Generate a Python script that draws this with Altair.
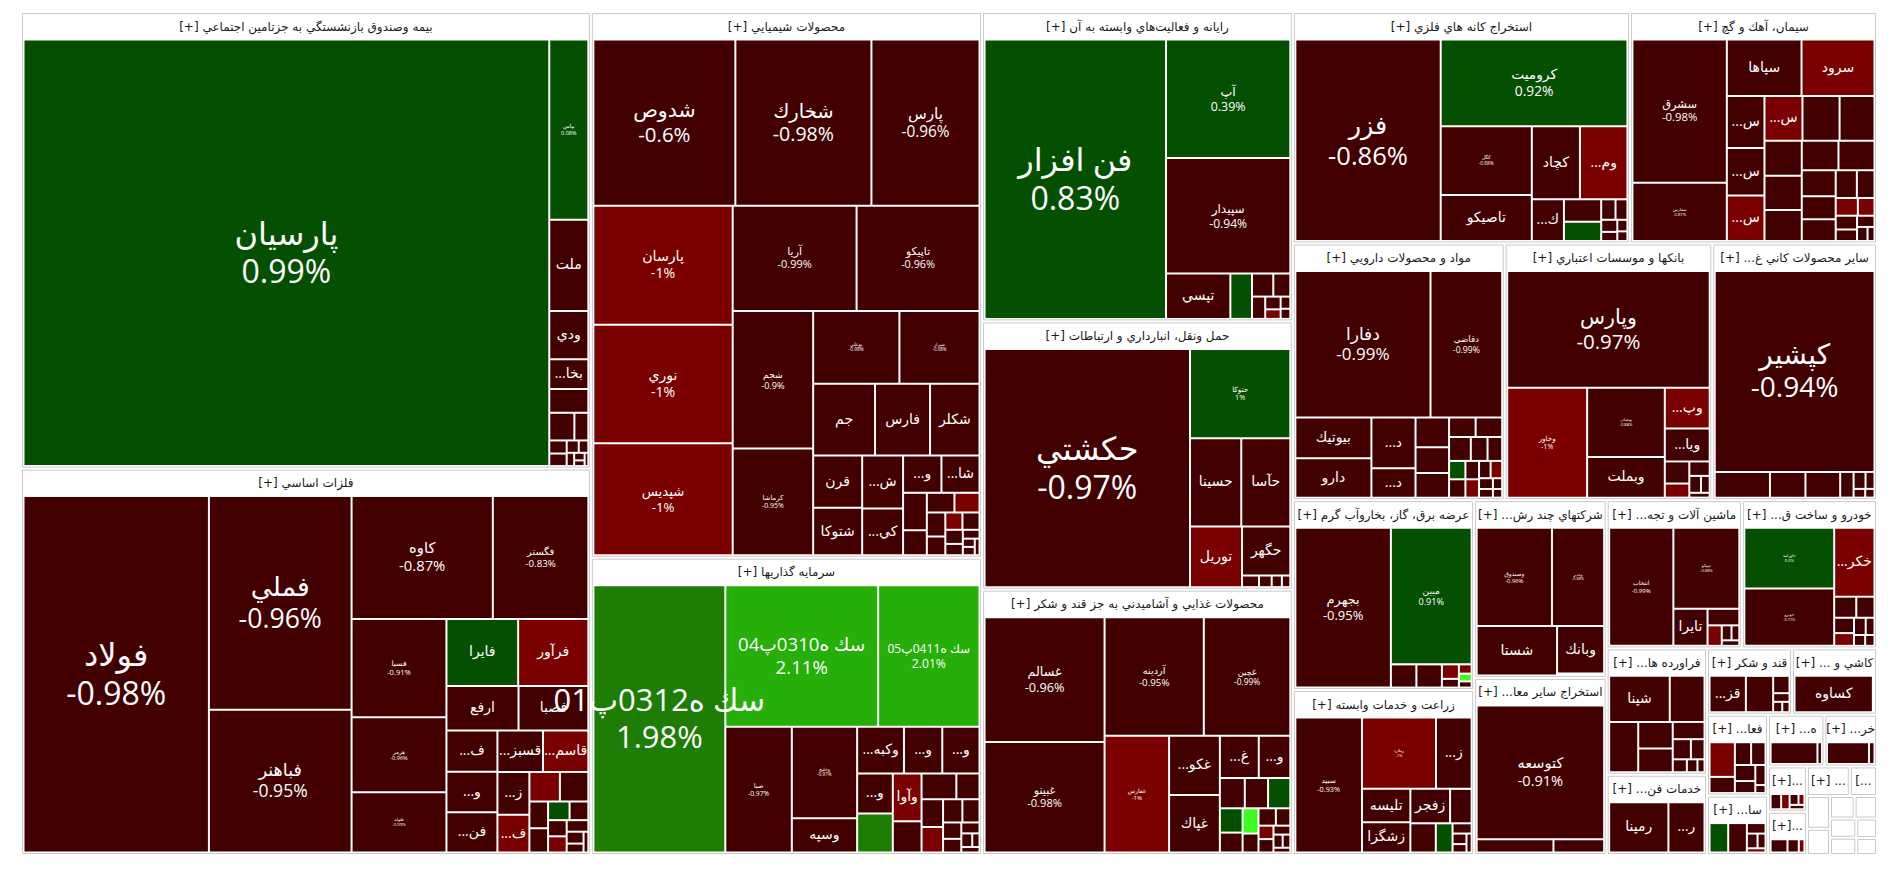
import altair as alt
import pandas as pd

FONT_HDR = "DejaVu Sans"
FONT_LBL = "Open Sans, DejaVu Sans"
W, H = 1856, 843
HEADER = 26

# ---------------- sectors (header text as shown, size) ----------------
sector_headers = [
    "[+] بيمه وصندوق بازنشستگي به جزتامين اجتماعي",
    "[+] فلزات اساسي",
    "[+] محصولات شيميايي",
    "[+] سرمايه گذاريها",
    "[+] رايانه و فعاليت\u200cهاي وابسته به آن",
    "[+] حمل ونقل، انبارداري و ارتباطات",
    "[+] محصولات غذايي و آشاميدني به جز قند و شكر",
    "[+] استخراج كانه هاي فلزي",
    "[+] سيمان، آهك و گچ",
    "[+] مواد و محصولات دارويي",
    "[+] بانكها و موسسات اعتباري",
    "[+] ...ساير محصولات كاني غ",
    "[+] عرضه برق، گاز، بخاروآب گرم",
    "[+] زراعت و خدمات وابسته",
    "[+] ...شركتهاي چند رش",
    "[+] ...استخراج ساير معا",
    "[+] ...ماشين آلات و تجه",
    "[+] ...خودرو و ساخت ق",
    "[+] ...فراورده ها",
    "[+] ...خدمات فن",
    "[+] قند و شكر",
    "[+] ... كاشي و",
    "[+] ...فعا",
    "[+] ...سا",
    "[+] ...ه",
    "[+] ...خر",
    "[+]...",
    "[+]...",
    "[+] ...",
    "[...",
    "", "", "", "", "", "", "", "",
]
sector_values = [258.4, 218.7, 212.0, 115.5, 95.5, 82.8, 81.9, 77.5, 56.8, 54.0,
                 52.9, 42.0, 34.2, 29.7, 23.4, 23.3, 19.9, 19.9, 12.6, 8.0,
                 5.6, 5.6, 4.9, 3.6, 2.9, 2.7, 1.75, 1.67, 1.26, 0.8,
                 0.75, 0.6, 0.55, 0.5, 0.5, 0.45, 0.4, 0.35]

# ---------------- stocks per sector: names, sizes, % change ----------------
s01_names = ["پارسيان", "بپاس", "ملت", "ودي", "...بخا"] + [""] * 11
s01_values = [226, 7.1, 3.6, 1.9, 1.17, 0.94, 0.7, 0.39, 0.23, 0.22, 0.15, 0.12, 0.1, 0.08, 0.06, 0.05]
s01_pcts = [0.99, 0.08] + [-0.9] * 14

s02_names = ["فولاد", "فملي", "فباهنر", "كاوه", "فگستر", "فسبا", "هرمز", "فلوله", "فايرا", "فرآور",
             "ارفع", "فصبا", "...ف", "...و", "...فن", "...قسبز", "...قاسم", "...ز", "...ف"] + [""] * 12
s02_values = [65.9, 30.4, 20.3, 17.3, 11.7, 9.3, 7.1, 5.7, 4.8, 4.7, 3.2, 3.1, 2.1, 2.05, 2.05, 1.88,
              1.87, 1.37, 1.2, 0.9, 0.84, 0.5, 0.45, 0.4, 0.35, 0.3, 0.3, 0.25, 0.2, 0.15, 0.1]
s02_pcts = [-0.98, -0.96, -0.95, -0.87, -0.83, -0.91, -0.96, -0.99, 0.6, -1.3,
            -0.9, -0.9, -0.9, -0.9, -0.9, -0.9, -1.3, -0.9, -1.3, -1.3,
            -0.9, -0.9, -0.9, 0.5, -0.9, -0.9, -1.3, -0.9, -0.9, -0.9, -0.9]

s03_names = ["شدوص", "شخارك", "پارس", "پارسان", "نوري", "شپديس", "آريا", "تاپيكو", "شجم", "كرماشا",
             "بوعلي", "شيراز", "جم", "فارس", "شكلر", "قرن", "شتوكا", "...ش", "...كي", "...و", "...شا"] + [""] * 14
s03_values = [23.9, 22.9, 18.2, 16.8, 16.7, 15.8, 13.2, 13.1, 11.2, 8.7, 6.35, 5.9, 4.5, 4.0, 3.6,
              2.6, 2.35, 2.2, 1.93, 1.45, 1.44, 0.9, 0.6, 0.55, 0.5, 0.45, 0.35, 0.3, 0.3, 0.25,
              0.2, 0.15, 0.1, 0.1, 0.08]
s03_pcts = [-0.6, -0.98, -0.96, -1.003, -1.003, -1.003, -0.99, -0.96, -0.9, -0.95, -0.98, -0.98,
            -0.9, -0.9, -0.9, -0.9, -0.9, -0.9, -0.9, -0.9, -0.9,
            -0.9, -0.9, -0.9, -1.3, -0.9, -0.9, -1.3, -0.9, -0.9, -0.9, -0.9, -0.9, -0.9, -0.9]

s04_names = ["سك ه0312پ01", "سك ه0310پ04", "سك ه0411پ05", "صبا", "وخليج", "وسپه", "...وكبه",
             "...و", "...و", "...و", "", "وآوا"] + [""] * 13
s04_values = [35.4, 21.7, 14.4, 8.4, 6.0, 2.25, 2.2, 1.8, 1.75, 1.43, 1.4, 1.38, 0.9, 0.9, 0.6,
              0.6, 0.55, 0.45, 0.4, 0.3, 0.25, 0.2, 0.15, 0.1, 0.1]
s04_pcts = [1.98, 2.11, 2.01, -0.97, -0.97, -0.9, -0.9, -0.9, -0.9, -0.9, 1.5, -1.3, -0.9, -0.9,
            -0.9, -0.9, -1.3, -0.9, -0.9, -0.9, -0.9, -0.9, -0.9, -0.9, -0.9]

s05_names = ["فن افزار", "آپ", "سپيدار", "تپسي"] + [""] * 8
s05_values = [51.6, 15.0, 14.6, 2.97, 1.0, 0.5, 0.4, 0.3, 0.2, 0.15, 0.12, 0.1]
s05_pcts = [0.83, 0.39, -0.94, -0.9, 0.5, -0.9, -0.9, -0.9, -0.9, -1.3, -0.9, -0.9]

s06_names = ["حكشتي", "حتوكا", "حسينا", "حآسا", "توريل", "حگهر", "", "", "", ""]
s06_values = [49.7, 9.1, 4.6, 4.4, 3.2, 2.4, 0.2, 0.15, 0.12, 0.1]
s06_pcts = [-0.97, 0.998, -0.9, -0.9, -1.3, -0.9, -0.9, -0.9, -0.9, -0.9]

s07_names = ["غسالم", "غبينو", "آردينه", "غچين", "غفارس", "...غكو", "غپاك", "...غ", "...و"] + [""] * 15
s07_values = [14.9, 13.2, 11.7, 10.2, 7.5, 3.0, 2.9, 1.64, 1.33, 0.75, 0.7, 0.67, 0.55, 0.45, 0.4,
              0.3, 0.3, 0.25, 0.2, 0.2, 0.15, 0.12, 0.1, 0.08]
s07_pcts = [-0.96, -0.98, -0.95, -0.99, -1.003, -0.9, -0.9, -0.9, -0.9,
            -0.9, -0.9, 0.5, 0.5, -0.9, 4.0, -0.9, -0.9, -0.9, -1.3, -0.9, -0.9, -0.9, -0.9, -0.9]

s08_names = ["فزر", "كروميت", "كگل", "تاصيكو", "كچاد", "...وم", "...ك"] + [""] * 8
s08_values = [30.0, 16.6, 6.4, 4.3, 3.6, 3.55, 1.37, 0.86, 0.73, 0.3, 0.25, 0.2, 0.15, 0.12, 0.1]
s08_pcts = [-0.86, 0.92, -0.88, -0.9, -0.9, -1.3, -0.9, -0.9, 0.5, -0.9, -0.9, -0.9, -0.9, -0.9, -0.9]

s09_names = ["سشرق", "سفارس", "سپاها", "سرود", "...س", "...س", "...س", "...س"] + [""] * 19
s09_values = [13.8, 5.6, 4.3, 4.2, 2.0, 1.82, 1.75, 1.74, 1.7, 1.6, 1.33, 1.3, 1.18, 1.1, 1.08,
              0.9, 0.8, 0.75, 0.6, 0.5, 0.4, 0.3, 0.3, 0.25, 0.2, 0.15, 0.1]
s09_pcts = [-0.98, -0.87, -0.9, -1.3, -0.9, -0.9, -1.3, -1.3] + [-0.9] * 12 + [-1.3, -1.3] + [-0.9] * 5

s10_names = ["دفارا", "دقاضي", "بيوتيك", "دارو", "...د", "...د", "...د"] + [""] * 17
s10_values = [19.8, 10.5, 3.1, 3.0, 2.24, 1.3, 1.0, 0.86, 0.83, 0.52, 0.52, 0.52, 0.4, 0.35, 0.3,
              0.3, 0.25, 0.25, 0.2, 0.2, 0.15, 0.12, 0.1, 0.08]
s10_pcts = [-0.99, -0.99] + [-0.9] * 12 + [0.5, -0.9, -0.9, -1.3, -0.9, -1.3, -0.9, -0.9, -0.9, -0.9]

s11_names = ["وپارس", "وخاور", "وبصادر", "وبملت", "...وپ", "...ويا"] + [""] * 6
s11_values = [24.0, 8.9, 5.45, 3.2, 1.85, 1.5, 0.55, 0.35, 0.3, 0.2, 0.15, 0.1]
s11_pcts = [-0.97, -1.003, -0.88, -0.9, -1.3, -0.9, -0.9, -1.3, -0.9, -0.9, -0.9, -0.9]

s12_names = ["كپشير"] + [""] * 8
s12_values = [31.6, 1.4, 0.9, 0.88, 0.34, 0.2, 0.15, 0.1, 0.08]
s12_pcts = [-0.94] + [-0.9] * 8

s13_names = ["بجهرم", "مبين"] + [""] * 7
s13_values = [15.5, 11.2, 0.6, 0.6, 0.25, 0.15, 0.12, 0.1, 0.08]
s13_pcts = [-0.95, 0.91, -0.9, -0.9, -1.3, -0.9, -1.3, 4.0, -0.9]

s14_names = ["سبيد", "زملارد", "...ز", "تليسه", "زشگزا", "زفجر"] + [""] * 7
s14_values = [9.2, 5.4, 2.6, 1.65, 1.5, 1.4, 0.76, 0.76, 0.5, 0.2, 0.15, 0.12, 0.1]
s14_pcts = [-0.93, -1.003, -0.9, -0.9, -0.9, -0.9, -0.9, -0.9, 0.5, -0.9, -0.9, -0.9, -0.9]

s15_names = ["وصندوق", "وغدير", "شستا", "وبانك", ""]
s15_values = [7.65, 5.3, 4.1, 2.3, 0.1]
s15_pcts = [-0.96, -0.88, -0.9, -0.9, -0.9]

s16_names = ["كتوسعه", "", ""]
s16_values = [16.9, 1.0, 0.66]
s16_pcts = [-0.91, -0.9, -0.9]

s17_names = ["انتخاب", "تيپيكو", "تايرا", "", "", "", "", ""]
s17_values = [7.8, 5.5, 1.3, 0.54, 0.3, 0.15, 0.12, 0.1]
s17_pcts = [-0.99, -0.88, -0.9, -0.9, -1.3, -0.9, -0.9, -0.9]

s18_names = ["خاورامد", "خودرو", "...خكر"] + [""] * 8
s18_values = [5.4, 5.1, 2.75, 0.46, 0.38, 0.3, 0.25, 0.2, 0.15, 0.12, 0.1]
s18_pcts = [0.3, -0.77, -1.3, -0.9, -0.9, -0.9, -1.3, -0.9, -0.9, -0.9, -0.9]

s19_names = ["شپنا"] + [""] * 10
s19_values = [3.05, 1.75, 1.6, 1.0, 0.9, 0.6, 0.4, 0.3, 0.2, 0.15, 0.1]
s19_pcts = [-0.9] * 11

s20_names = ["رمپنا", "...ر"]
s20_values = [3.25, 1.98]
s20_pcts = [-0.9, -0.9]

s21_names = ["...قز", "", "", "", "", ""]
s21_values = [1.4, 1.05, 0.3, 0.15, 0.1, 0.08]
s21_pcts = [-0.9] * 6

s22_names = ["كساوه", ""]
s22_values = [2.9, 0.06]
s22_pcts = [-0.9, -0.9]

s23_names = ["...ا", "", "", "", "", "", "", ""]
s23_values = [1.07, 0.5, 0.45, 0.4, 0.4, 0.3, 0.25, 0.1]
s23_pcts = [-1.3] + [-0.9] * 7

s24_names = [""] * 6
s24_values = [0.7, 0.7, 0.25, 0.2, 0.15, 0.1]
s24_pcts = [0.5, -0.9, -0.9, -0.9, -0.9, -1.3]

s25_names = ["", ""]
s25_values = [1.25, 0.12]
s25_pcts = [-0.9, -0.9]

s26_names = ["", ""]
s26_values = [1.15, 0.15]
s26_pcts = [-0.9, -0.9]

s27_names = [""] * 5
s27_values = [0.25, 0.2, 0.15, 0.1, 0.1]
s27_pcts = [-0.9, -1.3, -0.9, -1.3, -0.9]

s28_names = [""] * 3
s28_values = [0.3, 0.2, 0.1]
s28_pcts = [-0.9, -0.9, -1.3]

s29_names = [""]
s29_values = [0.1]
s29_pcts = [-0.9]

s30_names = [""]
s30_values = [0.1]
s30_pcts = [-0.9]

sector_stocks = [
    (s01_names, s01_values, s01_pcts), (s02_names, s02_values, s02_pcts),
    (s03_names, s03_values, s03_pcts), (s04_names, s04_values, s04_pcts),
    (s05_names, s05_values, s05_pcts), (s06_names, s06_values, s06_pcts),
    (s07_names, s07_values, s07_pcts), (s08_names, s08_values, s08_pcts),
    (s09_names, s09_values, s09_pcts), (s10_names, s10_values, s10_pcts),
    (s11_names, s11_values, s11_pcts), (s12_names, s12_values, s12_pcts),
    (s13_names, s13_values, s13_pcts), (s14_names, s14_values, s14_pcts),
    (s15_names, s15_values, s15_pcts), (s16_names, s16_values, s16_pcts),
    (s17_names, s17_values, s17_pcts), (s18_names, s18_values, s18_pcts),
    (s19_names, s19_values, s19_pcts), (s20_names, s20_values, s20_pcts),
    (s21_names, s21_values, s21_pcts), (s22_names, s22_values, s22_pcts),
    (s23_names, s23_values, s23_pcts), (s24_names, s24_values, s24_pcts),
    (s25_names, s25_values, s25_pcts), (s26_names, s26_values, s26_pcts),
    (s27_names, s27_values, s27_pcts), (s28_names, s28_values, s28_pcts),
    (s29_names, s29_values, s29_pcts), (s30_names, s30_values, s30_pcts),
] + [([], [], [])] * 8

color_domain = [-2, -1, 0, 1, 2, 3]
color_range = ["#b00000", "#7b0000", "#420000", "#055000", "#1e7d04", "#26ae09", "#3dfc21"]

for nm, vl, pc in sector_stocks:
    assert len(nm) == len(vl) == len(pc), (nm, vl, pc)
assert len(sector_headers) == len(sector_values) == len(sector_stocks)


# ---------------- squarified treemap layout (ratio 1) ----------------
def squarify(values, x0, y0, x1, y1):
    order = sorted(range(len(values)), key=lambda i: -values[i])
    vals = [values[i] for i in order]
    out = [None] * len(values)
    n = len(vals)
    value = float(sum(vals))
    i0 = 0
    while i0 < n:
        dx, dy = x1 - x0, y1 - y0
        if dx <= 0 or dy <= 0 or value <= 0:
            for k in range(i0, n):
                out[order[k]] = (x0, y0, max(x0, x1), max(y0, y1))
            break
        i1 = i0
        s = vals[i1]
        i1 += 1
        mn = mx = s
        alpha = max(dy / dx, dx / dy) / value
        beta = s * s * alpha
        best = max(mx / beta, beta / mn)
        while i1 < n:
            v = vals[i1]
            ns = s + v
            nmn, nmx = min(mn, v), max(mx, v)
            beta = ns * ns * alpha
            r = max(nmx / beta, beta / nmn)
            if r > best:
                break
            s, mn, mx, best = ns, nmn, nmx, r
            i1 += 1
        if dx < dy:
            yb = y0 + dy * s / value
            xx = x0
            for k in range(i0, i1):
                w = dx * vals[k] / s
                out[order[k]] = (xx, y0, xx + w, yb)
                xx += w
            y0 = yb
        else:
            xb = x0 + dx * s / value
            yy = y0
            for k in range(i0, i1):
                h = dy * vals[k] / s
                out[order[k]] = (x0, yy, xb, yy + h)
                yy += h
            x0 = xb
        value -= s
        i0 = i1
    return out


def fmt_pct(p):
    return f"{p:.2f}".rstrip("0").rstrip(".") + "%"


sec_rows, hdr_rows, cell_rows, lbl_rows = [], [], [], []
for si, (x0, y0, x1, y1) in enumerate(squarify(sector_values, 0, 0, W, H)):
    ox0, oy0, ox1, oy1 = x0 + 1.5, y0 + 1.5, x1 - 1.5, y1 - 1.5
    sec_rows.append({"x": ox0, "x2": ox1, "y": oy0, "y2": oy1})
    if sector_headers[si]:
        hdr_rows.append({"x": (ox0 + ox1) / 2, "y": oy0 + 13, "t": sector_headers[si]})
    names, vals, pcts = sector_stocks[si]
    cx0, cy0, cx1, cy1 = ox0 + 1, oy0 + HEADER, ox1 - 1, oy1 - 1
    if not vals or cy1 - cy0 < 3:
        continue
    for name, pct, (a0, b0, a1, b1) in zip(names, pcts, squarify(vals, cx0, cy0, cx1, cy1)):
        cell_rows.append({"x": a0 + 1, "x2": max(a0 + 1, a1 - 1),
                          "y": b0 + 1, "y2": max(b0 + 1, b1 - 1), "pct": pct})
        area = (a1 - a0) * (b1 - b0)
        cx, cy = (a0 + a1) / 2, (b0 + b1) / 2
        if name and area >= 5000:
            fs = min(32.0, 0.9 * area / 1000 - 0.8)
            lbl_rows.append({"x": cx, "y": cy - 0.56 * fs, "t": name, "fs": fs})
            lbl_rows.append({"x": cx, "y": cy + 0.64 * fs, "t": fmt_pct(pct), "fs": fs})
        elif name and area >= 1000:
            lbl_rows.append({"x": cx, "y": cy, "t": name, "fs": 14})

xs = alt.Scale(domain=[0, W], nice=False, zero=False)
ys = alt.Scale(domain=[0, H], nice=False, zero=False, reverse=True)


def X():
    return alt.X("x:Q", scale=xs, axis=None)


def Y():
    return alt.Y("y:Q", scale=ys, axis=None)


sectors = alt.Chart(pd.DataFrame(sec_rows)).mark_rect(
    fill="white", stroke="#c9c9c9", strokeWidth=1
).encode(x=X(), x2="x2:Q", y=Y(), y2="y2:Q")

cells = alt.Chart(pd.DataFrame(cell_rows)).mark_rect(strokeWidth=0).encode(
    x=X(), x2="x2:Q", y=Y(), y2="y2:Q",
    color=alt.Color("pct:Q", scale=alt.Scale(type="threshold", domain=color_domain, range=color_range),
                    legend=None),
)

headers = alt.Chart(pd.DataFrame(hdr_rows)).mark_text(
    font=FONT_HDR, fontSize=12, color="#1a1a1a", align="center", baseline="middle"
).encode(x=X(), y=Y(), text="t:N")

labels = alt.Chart(pd.DataFrame(lbl_rows)).mark_text(
    font=FONT_LBL, color="white", align="center", baseline="middle"
).encode(x=X(), y=Y(), text="t:N", size=alt.Size("fs:Q", scale=None))

chart = alt.layer(sectors, cells, headers, labels).properties(
    width=W, height=H,
    padding={"left": 13, "top": 4, "right": 0, "bottom": 0},
    autosize=alt.AutoSizeParams(type="none"),
).configure_view(stroke=None)

chart.save("out.html", embed_options={"renderer": "svg", "actions": False})
